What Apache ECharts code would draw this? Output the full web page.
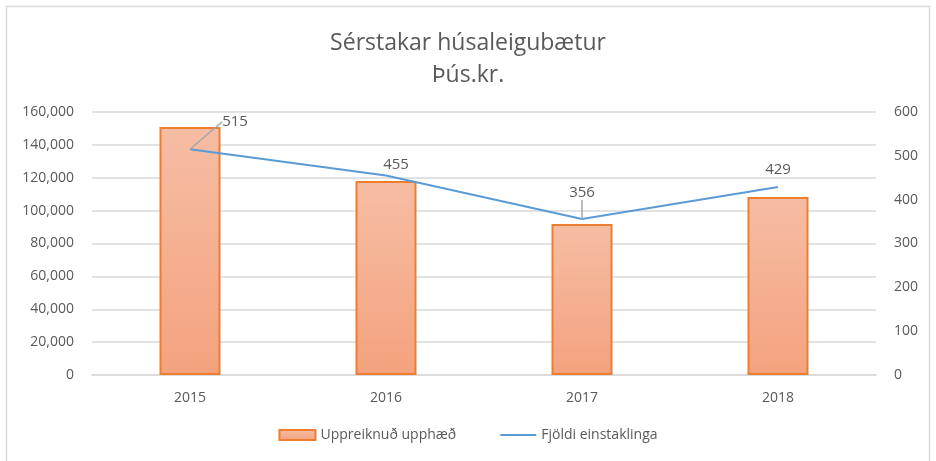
<!DOCTYPE html>
<html>
<head>
<meta charset="utf-8">
<style>
  html, body { margin: 0; padding: 0; background: #fff; }
  #chart { width: 936px; height: 461px; }
</style>
</head>
<body>
<div id="chart"></div>
<script src="https://cdn.jsdelivr.net/npm/echarts@6/dist/echarts.min.js"></script>
<script>
var years = ['2015', '2016', '2017', '2018'];
var upphaed = [150800, 118000, 91900, 108300];
var fjoldi = [515, 455, 356, 429];

// label nudges (px) so the line labels sit like in the original
var labelShift = [[45, -14], [10, 3], [0, -13], [0, -4]];
var showLeader = [true, false, true, false];

var font = '"Open Sans", "Noto Sans", sans-serif';
var grey = '#595959';

var myChart = echarts.init(document.getElementById('chart'));

var lineData = fjoldi.map(function (v, i) {
    return { value: v, labelLine: { show: showLeader[i] } };
});

var option = {
    animation: false,
    textStyle: { fontFamily: font },
    graphic: [{
        type: 'rect',
        shape: { x: 6.5, y: 6.5, width: 923, height: 470 },
        style: { fill: 'none', stroke: '#d9d9d9', lineWidth: 1.5 },
        silent: true
    }],
    title: {
        text: 'Sérstakar húsaleigubætur\nÞús.kr.',
        left: 'center',
        top: 22,
        textStyle: { fontFamily: font, fontSize: 23, fontWeight: 'normal', color: grey, lineHeight: 32 }
    },
    legend: {
        bottom: 14,
        left: 'center',
        itemGap: 44,
        itemWidth: 36,
        itemHeight: 10,
        textStyle: { fontFamily: font, fontSize: 14, color: grey },
        data: [
            { name: 'Uppreiknuð upphæð', icon: 'rect' },
            { name: 'Fjöldi einstaklinga', icon: 'path://M0,0 L36,0 L36,2 L0,2 Z', itemStyle: { color: '#5b9bd5' } }
        ]
    },
    grid: { left: 92, right: 60, top: 112, bottom: 86 },
    xAxis: {
        type: 'category',
        data: years,
        axisTick: { show: false },
        axisLine: { lineStyle: { color: '#d9d9d9', width: 1.5 } },
        axisLabel: { color: grey, fontSize: 14, margin: 16 }
    },
    yAxis: [{
        type: 'value',
        min: 0, max: 160000, interval: 20000,
        axisLabel: {
            color: grey, fontSize: 14, margin: 18,
            formatter: function (v) { return v.toLocaleString('en-US'); }
        },
        splitLine: { lineStyle: { color: '#d9d9d9', width: 1.5 } }
    }, {
        type: 'value',
        min: 0, max: 600, interval: 100,
        axisLabel: { color: grey, fontSize: 14, margin: 18 },
        splitLine: { show: false }
    }],
    series: [{
        name: 'Uppreiknuð upphæð',
        type: 'bar',
        data: upphaed,
        barWidth: 61,
        itemStyle: {
            color: new echarts.graphic.LinearGradient(0, 0, 0, 1, [
                { offset: 0, color: '#f6bda4' },
                { offset: 1, color: '#f4a27e' }
            ]),
            borderColor: '#ed7d31',
            borderWidth: 2
        }
    }, {
        name: 'Fjöldi einstaklinga',
        type: 'line',
        yAxisIndex: 1,
        data: lineData,
        symbol: 'circle',
        symbolSize: 0.1,
        showSymbol: true,
        lineStyle: { color: '#5b9bd5', width: 2 },
        itemStyle: { color: '#5b9bd5' },
        label: {
            show: true,
            position: 'top',
            distance: 6,
            color: grey,
            fontSize: 15
        },
        labelLine: { show: true, lineStyle: { color: '#a6a6a6', width: 1.5 } },
        labelLayout: function (p) {
            var s = labelShift[p.dataIndex];
            return { dx: s[0], dy: s[1] };
        }
    }]
};

myChart.setOption(option);
</script>
</body>
</html>
